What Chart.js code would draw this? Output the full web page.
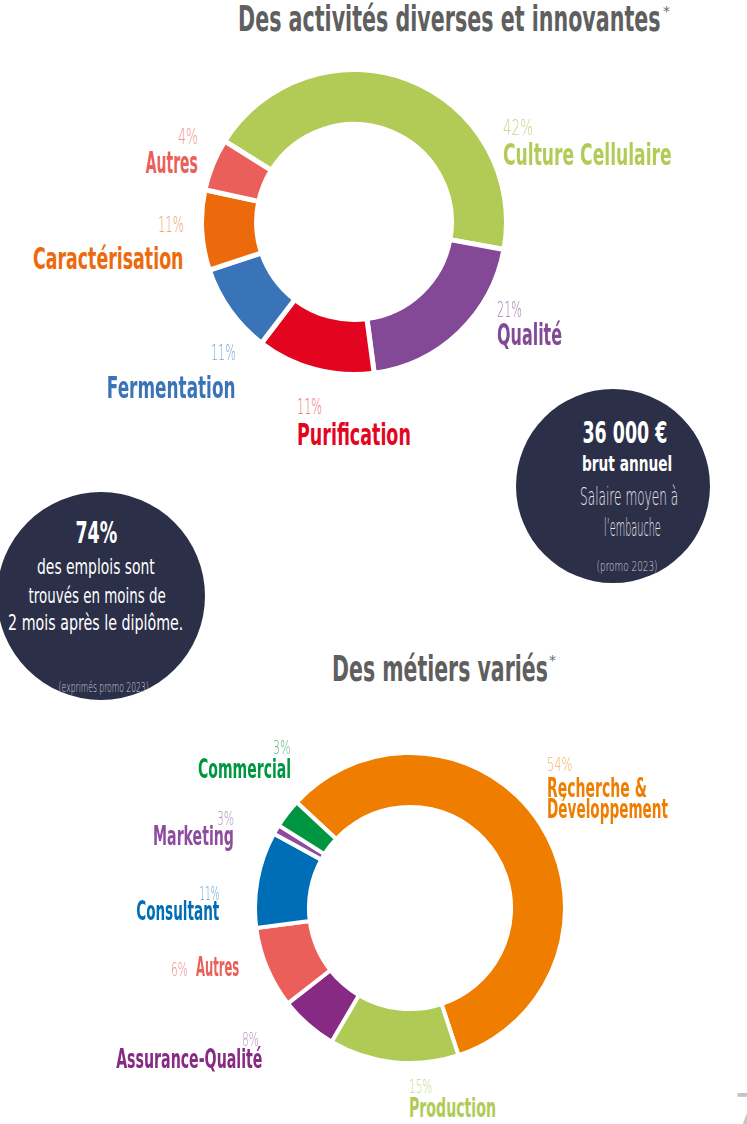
<!DOCTYPE html>
<html lang="fr">
<head>
<meta charset="utf-8">
<title>Activités et métiers</title>
<script src="https://cdn.jsdelivr.net/npm/chart.js@4/dist/chart.umd.min.js"></script>
<style>
  html, body { margin: 0; padding: 0; background: #fff; }
  body { width: 747px; height: 1124px; position: relative; overflow: hidden; }
  .box { position: absolute; }
  .t { position: absolute; white-space: nowrap; line-height: 1; }
  .disc { position: absolute; border-radius: 50%; background: #2c2f48; }
</style>
</head>
<body>
<div class="disc" style="left:516px; top:389px; width:194px; height:194px;"></div>
<div class="disc" style="left:-3px; top:492px; width:208px; height:208px;"></div>

<div class="box" style="left:199px; top:67px; width:310px; height:310px;"><canvas id="activites"></canvas></div>
<div class="box" style="left:253px; top:751px; width:314px; height:314px;"><canvas id="metiers"></canvas></div>

<script>
// Des activités diverses et innovantes
const categories1 = ['Culture Cellulaire', 'Qualité', 'Purification', 'Fermentation', 'Caractérisation', 'Autres'];
const shares1 = ['42%', '21%', '11%', '11%', '11%', '4%'];
const values1 = [44, 20, 12.5, 9.5, 8.5, 5.5];
const colors1 = ['#b1cb56', '#834996', '#e3051f', '#3a74b8', '#ec6a0c', '#ea5f5a'];
const pctColors1 = ['#c3d68a', '#a27eb3', '#ec6b74', '#7ea4d4', '#f2a066', '#f09390'];

// Des métiers variés
const categories2 = ['Recherche &\nDéveloppement', 'Production', 'Assurance-Qualité', 'Autres', 'Consultant', 'Marketing', 'Commercial'];
const shares2 = ['54%', '15%', '8%', '6%', '11%', '3%', '3%'];
const values2 = [58, 13.5, 6, 8.5, 10, 1, 3];
const colors2 = ['#ef7d00', '#b0cb55', '#862a84', '#ea5f5a', '#006eb7', '#8d4c9e', '#009641'];
const pctColors2 = ['#f5ae63', '#c7da86', '#b88dbd', '#f08a85', '#5f9fd3', '#b28bc0', '#5db778'];

const BOLD = '"DejaVu Sans Condensed", "Liberation Sans Narrow", sans-serif';
const LIGHT = '"DejaVu Sans", sans-serif';

// place a text line: x = anchor, base = baseline, w = width to fit
function place(text, o) {
    const el = document.createElement('div');
    el.className = 't';
    el.textContent = text;
    el.style.fontFamily = o.family || BOLD;
    el.style.fontWeight = o.weight || 'bold';
    el.style.fontSize = o.size + 'px';
    el.style.color = o.color;
    document.body.appendChild(el);
    const nat = el.offsetWidth;
    const align = o.align || 'left';
    let left = o.x;
    if (align === 'right') left = o.x - nat;
    if (align === 'center') left = o.x - nat / 2;
    el.style.left = left + 'px';
    el.style.top = (o.base - 0.846 * o.size) + 'px';
    el.style.transformOrigin = align === 'right' ? 'right' : (align === 'center' ? 'center' : 'left');
    if (o.w) el.style.transform = 'scaleX(' + (o.w / nat).toFixed(3) + ')';
}

// label positions (percent line + name line)
const layout1 = [
    { px: 503, pb: 136, pw: 30, lx: 503, lb: 165, lw: 169, align: 'left' },
    { px: 497, pb: 318, pw: 25, lx: 497, lb: 345, lw: 65, align: 'left' },
    { px: 297, pb: 415, pw: 25, lx: 297, lb: 445, lw: 114, align: 'left' },
    { px: 236, pb: 361, pw: 25, lx: 236, lb: 398, lw: 129, align: 'right' },
    { px: 184, pb: 233, pw: 26, lx: 184, lb: 269, lw: 151, align: 'right' },
    { px: 198, pb: 145, pw: 20, lx: 198, lb: 173, lw: 52, align: 'right' }
];
const layout2 = [
    { px: 547, pb: 771, pw: 25, lx: 547, lb: 797, lw: [100, 121], align: 'left' },
    { px: 409, pb: 1093, pw: 23, lx: 409, lb: 1117, lw: 87, align: 'left' },
    { px: 259, pb: 1046, pw: 17, lx: 262, lb: 1068, lw: 146, align: 'right' },
    { px: 188, pb: 976, pw: 17, lx: 196, lb: 976, lw: 43, align: 'right', nameAlign: 'left' },
    { px: 219, pb: 900, pw: 20, lx: 219, lb: 920, lw: 83, align: 'right' },
    { px: 234, pb: 825, pw: 17, lx: 234, lb: 845, lw: 81, align: 'right' },
    { px: 291, pb: 754, pw: 18, lx: 291, lb: 778, lw: 93, align: 'right' }
];

function labels(cats, shares, colors, pctColors, lay, nameSize, pctSize, lineGap) {
    cats.forEach((c, i) => {
        const p = lay[i];
        place(shares[i], { x: p.px, base: p.pb, w: p.pw, size: pctSize, family: LIGHT, weight: 200, color: pctColors[i], align: p.align });
        c.split('\n').forEach((line, j) => {
            const w = Array.isArray(p.lw) ? p.lw[j] : p.lw;
            place(line, { x: p.lx, base: p.lb + j * lineGap, w: w, size: nameSize, color: colors[i], align: p.nameAlign || p.align });
        });
    });
}

labels(categories1, shares1, colors1, pctColors1, layout1, 30, 22, 0);
labels(categories2, shares2, colors2, pctColors2, layout2, 26, 20, 21);

// titles
place('Des activités diverses et innovantes', { x: 238, base: 31, w: 422, size: 36, color: '#5f5f5f' });
place('*', { x: 663, base: 16, size: 14, family: LIGHT, weight: 'normal', color: '#6a6a6a' });
place('Des métiers variés', { x: 332, base: 681, w: 216, size: 36, color: '#5f5f5f' });
place('*', { x: 549, base: 665, size: 14, family: LIGHT, weight: 'normal', color: '#6a6a6a' });

// salaire
place('36 000 €', { x: 625, base: 443, w: 85, size: 31, color: '#ffffff', align: 'center' });
place('brut annuel', { x: 627, base: 472, w: 90, size: 22, color: '#ffffff', align: 'center' });
place('Salaire moyen à', { x: 629, base: 505, w: 98, size: 24, family: LIGHT, weight: 200, color: '#e6e6ee', align: 'center' });
place('l\u2019embauche', { x: 632, base: 536, w: 57, size: 24, family: LIGHT, weight: 200, color: '#e6e6ee', align: 'center' });
place('(promo 2023)', { x: 627, base: 571, w: 61, size: 14, family: LIGHT, weight: 200, color: '#d0d1dc', align: 'center' });

// emplois
place('74%', { x: 96, base: 543, w: 42, size: 30, color: '#ffffff', align: 'center' });
place('des emplois sont', { x: 96, base: 575, w: 118, size: 22, family: BOLD, weight: 'normal', color: '#ffffff', align: 'center' });
place('trouvés en moins de', { x: 97, base: 604, w: 137, size: 22, family: BOLD, weight: 'normal', color: '#ffffff', align: 'center' });
place('2 mois après le diplôme.', { x: 95, base: 631, w: 175, size: 22, family: BOLD, weight: 'normal', color: '#ffffff', align: 'center' });
place('(exprimés promo 2023)', { x: 103, base: 692, w: 90, size: 14, family: LIGHT, weight: 200, color: '#d0d1dc', align: 'center' });

// page number
place('7', { x: 734, base: 1126, size: 44, family: LIGHT, weight: 'normal', color: '#c4c4c4' });

function doughnut(id, cats, values, colors, rotation, cutout, border) {
    new Chart(document.getElementById(id), {
        type: 'doughnut',
        data: {
            labels: cats,
            datasets: [{
                data: values,
                backgroundColor: colors,
                borderColor: '#ffffff',
                borderWidth: border,
                hoverOffset: 0
            }]
        },
        options: {
            responsive: true,
            maintainAspectRatio: false,
            animation: false,
            events: [],
            rotation: rotation,
            cutout: cutout,
            plugins: {
                legend: { display: false },
                tooltip: { enabled: false }
            }
        }
    });
}

doughnut('activites', categories1, values1, colors1, -58, '63.9%', 5);
doughnut('metiers', categories2, values2, colors2, -47, '65.2%', 4);
</script>
</body>
</html>
